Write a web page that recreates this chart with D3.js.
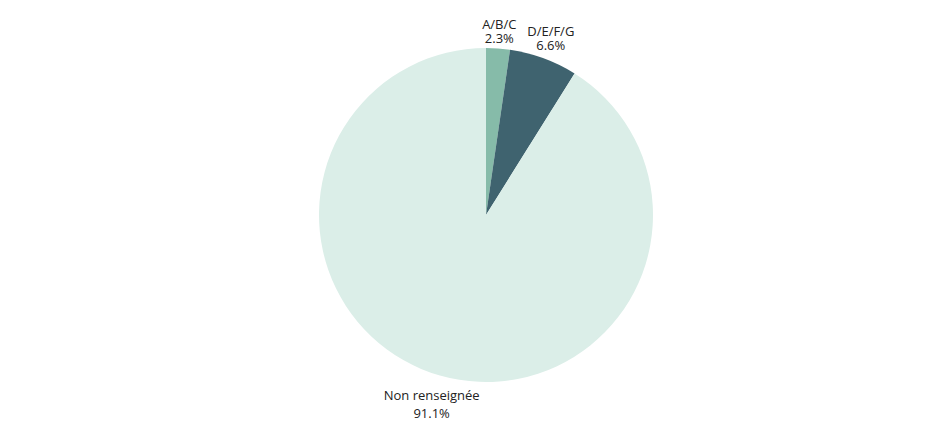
<!DOCTYPE html>
<html><head><meta charset="utf-8">
<script src="https://cdn.jsdelivr.net/npm/d3@7"></script>
<style>body{margin:0;background:#fff;} text{font-family:"Open Sans",sans-serif;}</style>
</head><body>
<svg id="c" width="935" height="437"></svg>
<script>
const categories = ["A/B/C", "D/E/F/G", "Non renseignée"];
const values = [2.3, 6.6, 91.1];
const labels = ["2.3%", "6.6%", "91.1%"];
const colors = ["#86bba9", "#3f636f", "#dbeee8"];

const svg = d3.select("#c");
const cx = 486, cy = 215, r = 167;
const g = svg.append("g").attr("transform", `translate(${cx},${cy})`);
const data = categories.map((c, i) => ({name: c, value: values[i], label: labels[i], color: colors[i]}));
const pie = d3.pie().value(d => d.value).sort(null);
const arc = d3.arc().innerRadius(0).outerRadius(r);
const arcs = pie(data);
g.selectAll("path").data(arcs).enter().append("path")
  .attr("d", arc).attr("fill", d => d.data.color);

const lr = [184, 188, 197];
const gap = [14, 14, 18];
arcs.forEach((a, i) => {
  const m = (a.startAngle + a.endAngle) / 2;
  const x = Math.sin(m) * lr[i];
  const y = -Math.cos(m) * lr[i];
  const t = g.append("text").attr("text-anchor", "middle")
    .attr("font-size", 13).attr("fill", "#222");
  t.append("tspan").attr("x", x).attr("y", y + 4.5 - gap[i] / 2).text(a.data.name);
  t.append("tspan").attr("x", x).attr("y", y + 4.5 + gap[i] / 2).text(a.data.label);
});
</script>
</body></html>
